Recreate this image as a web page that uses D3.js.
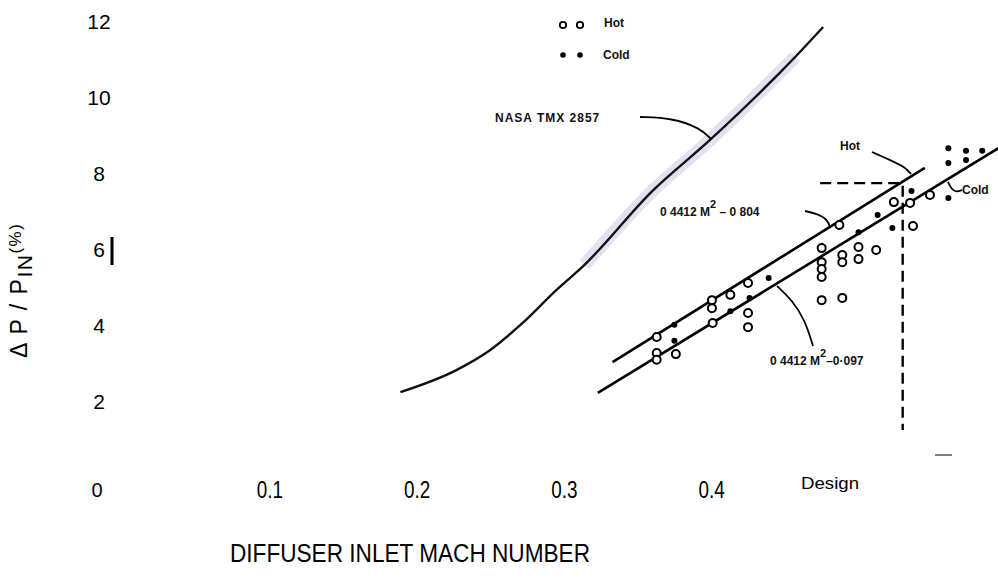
<!DOCTYPE html>
<html>
<head>
<meta charset="utf-8">
<script src="https://cdnjs.cloudflare.com/ajax/libs/d3/7.8.5/d3.min.js"></script>
<style>
	body { margin: 0; background: #fff; }
	svg { display: block; }
	.tick text { fill: #000; }
	.note { font-family: "Liberation Sans", Arial, sans-serif; font-weight: bold; font-size: 12px; fill: #111; }
</style>
</head>
<body>
<div id="chart"></div>
<script>
// pressure loss vs diffuser inlet mach number

var xTicks = [0.1, 0.2, 0.3, 0.4];
var yTicks = [2, 4, 6, 8, 10, 12];

// NASA TMX 2857 curve
var nasaM  = [0.189, 0.227, 0.250, 0.272, 0.295, 0.314, 0.360, 0.399, 0.457, 0.476];
var nasaDP = [2.26, 2.84, 3.37, 4.08, 4.95, 5.61, 7.55, 8.89, 11.08, 11.87];

// the two fitted straight lines (endpoints)
var upperM  = [0.333, 0.545];
var upperDP = [3.05, 8.16];
var lowerM  = [0.323, 0.595];
var lowerDP = [2.24, 8.68];

// hot runs (open circles)
var hotM  = [0.363, 0.363, 0.363, 0.376, 0.4005, 0.4005, 0.413, 0.401, 0.425, 0.425, 0.425,
	0.487, 0.475, 0.475, 0.475, 0.475, 0.475, 0.489, 0.489, 0.489, 0.500, 0.500, 0.512,
	0.524, 0.535, 0.5485, 0.537];
var hotDP = [3.71, 3.29, 3.11, 3.26, 4.68, 4.47, 4.82, 4.08, 4.34, 3.97, 5.13,
	6.66, 6.05, 5.68, 5.50, 5.29, 4.68, 4.74, 5.87, 5.68, 6.08, 5.76, 6.00,
	7.26, 7.24, 7.45, 6.63];

// cold runs (filled dots)
var coldM  = [0.375, 0.375, 0.413, 0.426, 0.439, 0.500, 0.513, 0.523, 0.536, 0.561,
	0.561, 0.573, 0.584, 0.561, 0.573];
var coldDP = [4.03, 3.61, 4.39, 4.74, 5.26, 6.47, 6.92, 6.58, 7.55, 7.37,
	8.68, 8.61, 8.61, 8.29, 8.37];

// design point guide
var designM = 0.530;
var designDP = 7.76;
var designFromM = 0.474;
var designBottomDP = 1.26;

var width = 998, height = 579;

var svg = d3.select("#chart").append("svg")
	.attr("width", width)
	.attr("height", height);

var x = d3.scaleLinear().domain([0, 0.6]).range([122, 122 + 1473 * 0.6]);
var y = d3.scaleLinear().domain([0, 12]).range([478, 22]);

function zip(a, b) {
	return a.map(function(d, i) { return [d, b[i]]; });
}

var line = d3.line()
	.x(function(d) { return x(d[0]); })
	.y(function(d) { return y(d[1]); });

// ---- axes (labels only, no axis lines in the original)
var yAxis = svg.append("g")
	.call(d3.axisLeft(y).tickValues(yTicks).tickSize(0).tickFormat(d3.format("d")));
yAxis.select(".domain").remove();
yAxis.selectAll("text")
	.attr("x", 99)
	.attr("text-anchor", "middle")
	.attr("font-family", "Liberation Sans, Arial, sans-serif")
	.attr("font-size", 21);

var xAxis = svg.append("g")
	.attr("transform", "translate(0,490)")
	.call(d3.axisBottom(x).tickValues(xTicks).tickSize(0).tickFormat(d3.format(".1f")));
xAxis.select(".domain").remove();
// the scanned digits are a bit narrow and tall
xAxis.selectAll(".tick text")
	.attr("x", 0)
	.attr("y", 0)
	.attr("dy", "0.35em")
	.attr("font-family", "Liberation Sans, Arial, sans-serif")
	.attr("font-size", 21)
	.attr("transform", "scale(0.9,1.1)");

// origin label sits off to the lower left
svg.append("text")
	.attr("x", x(0) - 25)
	.attr("y", 490)
	.attr("dy", "0.35em")
	.attr("text-anchor", "middle")
	.attr("font-family", "Liberation Sans, sans-serif")
	.attr("font-size", 20)
	.text("0");

svg.append("text")
	.attr("x", 410)
	.attr("y", 562)
	.attr("text-anchor", "middle")
	.attr("font-family", "Liberation Sans, sans-serif")
	.attr("font-size", 25)
	.attr("textLength", 360)
	.attr("lengthAdjust", "spacingAndGlyphs")
	.text("DIFFUSER INLET MACH NUMBER");

var yTitle = svg.append("text")
	.attr("transform", "translate(27,358) rotate(-90)")
	.attr("font-family", "Liberation Sans, Arial, sans-serif")
	.attr("font-size", 23)
	.attr("letter-spacing", 1.5);
yTitle.append("tspan").text("Δ P / P");
yTitle.append("tspan").attr("dy", 5).attr("font-size", 21).text("IN");
yTitle.append("tspan").attr("dy", -11).attr("font-size", 17).text("(%)");

// stray bar next to the 6
svg.append("line")
	.attr("x1", 112).attr("x2", 112)
	.attr("y1", y(6) - 13).attr("y2", y(6) + 15)
	.attr("stroke", "#000").attr("stroke-width", 3);

// ---- NASA curve, with the faint highlight from the scan
var nasa = zip(nasaM, nasaDP);
var smooth = line.curve(d3.curveMonotoneX);
svg.append("path")
	.datum(nasa.filter(function(d) { return d[0] >= 0.313 && d[0] <= 0.458; }))
	.attr("d", smooth)
	.attr("fill", "none")
	.attr("stroke", "#dcd8ee")
	.attr("stroke-width", 13)
	.attr("opacity", 0.8);
svg.append("path")
	.datum(nasa)
	.attr("d", smooth)
	.attr("fill", "none")
	.attr("stroke", "#111")
	.attr("stroke-width", 2.4);
line.curve(d3.curveLinear);

// fitted lines
[zip(upperM, upperDP), zip(lowerM, lowerDP)].forEach(function(seg) {
	svg.append("path")
		.datum(seg)
		.attr("d", line)
		.attr("fill", "none")
		.attr("stroke", "#000")
		.attr("stroke-width", 2.6);
});

// design dashed guide
svg.append("path")
	.datum([[designFromM, designDP], [designM, designDP], [designM, designBottomDP]])
	.attr("d", line)
	.attr("fill", "none")
	.attr("stroke", "#000")
	.attr("stroke-width", 2.4)
	.attr("stroke-dasharray", "11,6");

svg.append("text")
	.attr("x", 830)
	.attr("y", 489)
	.attr("text-anchor", "middle")
	.attr("font-family", "Liberation Sans, sans-serif")
	.attr("font-size", 17)
	.attr("textLength", 58)
	.attr("lengthAdjust", "spacingAndGlyphs")
	.text("Design");
svg.append("line")
	.attr("x1", 935).attr("x2", 952).attr("y1", 455).attr("y2", 455)
	.attr("stroke", "#555").attr("stroke-width", 1.5);

// ---- data points
svg.selectAll("circle.hot")
	.data(zip(hotM, hotDP))
	.enter().append("circle")
	.attr("class", "hot")
	.attr("cx", function(d) { return x(d[0]); })
	.attr("cy", function(d) { return y(d[1]); })
	.attr("r", 4)
	.attr("fill", "#fff")
	.attr("stroke", "#000")
	.attr("stroke-width", 2);

svg.selectAll("circle.cold")
	.data(zip(coldM, coldDP))
	.enter().append("circle")
	.attr("class", "cold")
	.attr("cx", function(d) { return x(d[0]); })
	.attr("cy", function(d) { return y(d[1]); })
	.attr("r", 3)
	.attr("fill", "#000");

// ---- legend
[563, 580].forEach(function(cx) {
	svg.append("circle").attr("cx", cx).attr("cy", 25).attr("r", 3.2)
		.attr("fill", "#fff").attr("stroke", "#000").attr("stroke-width", 1.8);
	svg.append("circle").attr("cx", cx).attr("cy", 55).attr("r", 2.8).attr("fill", "#000");
});
svg.append("text").attr("class", "note").attr("x", 604).attr("y", 27).text("Hot");
svg.append("text").attr("class", "note").attr("x", 603).attr("y", 59).text("Cold");

// ---- annotations and leaders
function leader(pts) {
	svg.append("path")
		.attr("d", d3.line().curve(d3.curveBasis)(pts))
		.attr("fill", "none")
		.attr("stroke", "#000")
		.attr("stroke-width", 1.8);
}

svg.append("text").attr("class", "note")
	.attr("x", 495).attr("y", 122)
	.attr("letter-spacing", 1)
	.text("NASA  TMX 2857");
leader([[640, 117], [672, 118], [700, 128], [711, 139]]);

var lab1 = svg.append("text").attr("class", "note").attr("x", 660).attr("y", 216);
lab1.append("tspan").text("0 4412  M");
lab1.append("tspan").attr("dy", -8).attr("font-size", 11).text("2");
lab1.append("tspan").attr("dy", 8).text(" – 0 804");
leader([[805, 211], [818, 214], [828, 220], [830, 228]]);

var lab2 = svg.append("text").attr("class", "note").attr("x", 770).attr("y", 365);
lab2.append("tspan").text("0 4412  M");
lab2.append("tspan").attr("dy", -8).attr("font-size", 11).text("2");
lab2.append("tspan").attr("dy", 8).text("–0·097");
leader([[813, 346], [805, 320], [792, 300], [777, 286]]);

svg.append("text").attr("class", "note").attr("x", 840).attr("y", 150).attr("font-size", 11).text("Hot");
leader([[872, 152], [890, 160], [905, 167], [911, 174]]);

svg.append("text").attr("class", "note").attr("x", 962).attr("y", 194).attr("font-size", 11).text("Cold");
leader([[948, 182], [952, 190], [957, 192], [962, 190]]);
</script>
</body>
</html>
